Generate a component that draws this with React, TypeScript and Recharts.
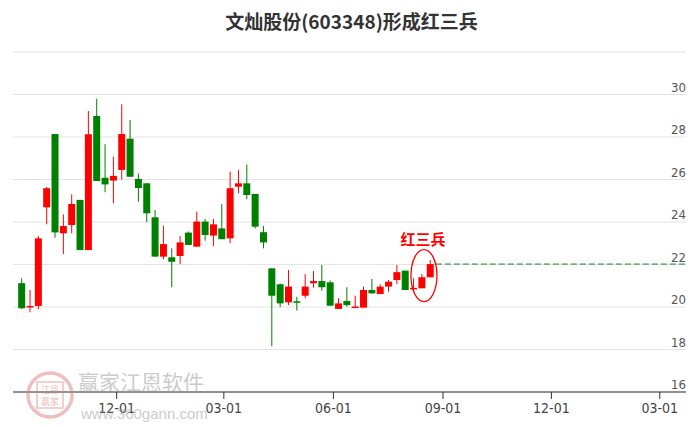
import React from "react";
import {
  ComposedChart,
  Bar,
  XAxis,
  YAxis,
  CartesianGrid,
  ReferenceLine,
  ReferenceDot,
} from "recharts";

// ---------- data ----------
const dates = [
  "2018-09-12", "2018-09-19", "2018-09-26", "2018-10-03", "2018-10-10",
  "2018-10-17", "2018-10-24", "2018-10-31", "2018-11-07", "2018-11-14",
  "2018-11-21", "2018-11-28", "2018-12-05", "2018-12-12", "2018-12-19",
  "2018-12-26", "2019-01-02", "2019-01-09", "2019-01-16", "2019-01-23",
  "2019-01-30", "2019-02-06", "2019-02-13", "2019-02-20", "2019-02-27",
  "2019-03-06", "2019-03-13", "2019-03-20", "2019-03-27", "2019-04-03",
  "2019-04-10", "2019-04-17", "2019-04-24", "2019-05-01", "2019-05-08",
  "2019-05-15", "2019-05-22", "2019-05-29", "2019-06-05", "2019-06-12",
  "2019-06-19", "2019-06-26", "2019-07-03", "2019-07-10", "2019-07-17",
  "2019-07-24", "2019-07-31", "2019-08-07", "2019-08-14", "2019-08-21",
];

const opens = [
  21.12, 20.0, 20.05, 24.69, 28.14, 23.47, 23.86, 25.04, 22.68, 28.99,
  26.08, 25.95, 26.45, 27.92, 26.03, 25.82, 24.22, 22.37, 22.34, 22.4,
  23.5, 22.84, 24.02, 23.36, 23.7, 23.23, 25.66, 25.82, 25.32, 23.52,
  21.82, 21.07, 20.22, 20.27, 20.53, 21.12, 21.22, 21.16, 19.91, 20.28,
  19.98, 19.97, 20.8, 20.61, 20.96, 21.27, 21.71, 20.86, 20.88, 21.4,
];
const closes = [
  19.94, 20.05, 23.23, 25.59, 23.51, 23.81, 24.85, 22.68, 28.13, 25.93,
  25.77, 26.17, 28.14, 26.13, 25.6, 24.41, 22.37, 22.96, 22.13, 23.04,
  22.92, 24.02, 23.39, 23.89, 23.19, 25.59, 25.82, 25.27, 23.78, 23.04,
  20.53, 20.17, 20.96, 20.24, 20.96, 21.22, 20.93, 20.06, 20.17, 20.09,
  20.02, 20.8, 20.64, 20.96, 21.19, 21.64, 20.8, 20.9, 21.4, 22.02,
];
const highs = [
  21.35, 20.8, 23.34, 25.65, 28.14, 24.36, 25.3, 25.04, 29.22, 29.8,
  27.66, 27.08, 29.54, 28.8, 26.28, 25.82, 24.56, 23.83, 22.76, 23.34,
  23.55, 24.49, 24.14, 24.14, 24.85, 26.37, 26.45, 26.71, 25.32, 23.81,
  21.82, 21.11, 21.74, 20.48, 21.55, 21.69, 21.98, 21.25, 20.41, 20.93,
  20.53, 20.96, 21.32, 21.07, 21.27, 21.98, 21.71, 21.35, 21.55, 22.21,
];
const lows = [
  19.9, 19.75, 19.9, 23.89, 23.26, 22.49, 23.47, 22.68, 22.68, 25.93,
  25.4, 24.88, 26.0, 26.13, 24.95, 23.99, 22.37, 22.24, 20.93, 22.02,
  22.92, 22.84, 23.12, 22.87, 23.19, 23.0, 25.35, 25.07, 23.7, 22.76,
  18.16, 19.99, 20.09, 19.83, 20.41, 20.91, 20.77, 20.06, 19.91, 20.01,
  19.98, 19.97, 20.64, 20.61, 20.72, 21.07, 20.8, 20.77, 20.88, 21.4,
];

const xTickDates = ["2018-12-01", "2019-03-01", "2019-06-01", "2019-09-01", "2019-12-01", "2020-03-01"];
const yTicks = [16, 18, 20, 22, 24, 26, 28, 30];
const xDomainDates = ["2018-09-05", "2020-03-23"];
const patternLabel = "红三兵";
const patternCenter = { date: "2019-08-16", price: 21.48 };
const lastClose = 22.02;
const dashStartDate = "2019-08-26";
const title = "文灿股份(603348)形成红三兵";

// ---------- helpers ----------
const toDay = (s: string) => {
  const [y, m, d] = s.split("-").map(Number);
  return Date.UTC(y, m - 1, d) / 86400000;
};
const fmtDay = (v: number) => {
  const d = new Date(v * 86400000);
  const mm = String(d.getUTCMonth() + 1).padStart(2, "0");
  const dd = String(d.getUTCDate()).padStart(2, "0");
  return `${mm}-${dd}`;
};

const data = dates.map((s, i) => ({
  t: toDay(s),
  open: opens[i],
  close: closes[i],
  high: highs[i],
  low: lows[i],
}));

const RED = "#ff0000";
const GREEN = "#008000";
const NARROW = "'Liberation Sans Narrow', 'Arial Narrow', 'DejaVu Sans Condensed', 'Liberation Sans', sans-serif";

const Candle = (props: any) => {
  const { x, y, width, height, payload } = props;
  if (x == null || y == null) return null;
  const { open, close, high, low } = payload;
  const top = Math.min(y, y + height);
  const h = Math.abs(height);
  const pix = (v: number) => top + ((high - v) / (high - low)) * h;
  const color = close >= open ? RED : GREEN;
  const cx = x + width / 2;
  const bt = pix(Math.max(open, close));
  const bb = pix(Math.min(open, close));
  return (
    <g>
      <line x1={cx} x2={cx} y1={top} y2={top + h} stroke={color} strokeWidth={1} />
      <rect x={x} y={bt} width={width} height={Math.max(1.5, bb - bt)} fill={color} />
    </g>
  );
};

const XTick = (props: any) => {
  const { x, y, payload } = props;
  return (
    <text x={x} y={y} dy={12} textAnchor="middle" fontSize={14} fill="#444" fontFamily={NARROW}>
      {fmtDay(payload.value)}
    </text>
  );
};

const YTick = (props: any) => {
  const { y, payload } = props;
  return (
    <text x={686} y={y - 3} textAnchor="end" fontSize={13} fill="#555" fontFamily={NARROW}>
      {payload.value}
    </text>
  );
};

const PatternMark = (props: any) => {
  const { cx, cy } = props;
  if (cx == null || cy == null) return null;
  return (
    <g>
      <ellipse cx={cx} cy={cy} rx={13} ry={26} fill="none" stroke={RED} strokeWidth={1.3} />
      <text
        x={cx - 1}
        y={cy - 37}
        textAnchor="middle"
        dominantBaseline="central"
        fontSize={15}
        fontWeight="bold"
        fill={RED}
        fontFamily="'Noto Sans CJK SC', sans-serif"
      >
        {patternLabel}
      </text>
    </g>
  );
};

export default function App() {
  const xMin = toDay(xDomainDates[0]);
  const xMax = toDay(xDomainDates[1]);
  return (
    <div style={{ position: "absolute", left: 0, top: 0, width: 689, height: 427, background: "#fff", overflow: "hidden" }}>
      <ComposedChart width={689} height={427} data={data} margin={{ top: 52, right: 0, bottom: 0, left: 13 }}>
        <CartesianGrid vertical={false} stroke="#e4e4e4" />
        <XAxis
          type="number"
          dataKey="t"
          domain={[xMin, xMax]}
          allowDataOverflow
          ticks={xTickDates.map(toDay)}
          tick={<XTick />}
          tickSize={7}
          tickLine={{ stroke: "#333" }}
          axisLine={{ stroke: "#333" }}
          height={35}
          interval={0}
        />
        <YAxis
          orientation="right"
          width={3}
          domain={[16, 32]}
          ticks={yTicks}
          axisLine={false}
          tickLine={false}
          tick={<YTick />}
          interval={0}
          allowDataOverflow
        />
        <Bar
          dataKey={(d: any) => [d.low, d.high]}
          barSize={7}
          shape={<Candle />}
          isAnimationActive={false}
        />
        <ReferenceLine
          segment={[
            { x: toDay(dashStartDate), y: lastClose },
            { x: xMax, y: lastClose },
          ]}
          stroke="#2a7a2a"
          strokeDasharray="6 3"
          strokeWidth={1}
        />
        <ReferenceDot
          x={toDay(patternCenter.date)}
          y={patternCenter.price}
          r={1}
          shape={<PatternMark />}
        />
      </ComposedChart>

      {/* title */}
      <div
        style={{
          position: "absolute",
          left: 0,
          top: 10,
          width: 703,
          textAlign: "center",
          fontSize: 19,
          lineHeight: "22px",
          fontWeight: "bold",
          color: "#333",
          fontFamily: "'Noto Sans CJK SC', sans-serif",
          whiteSpace: "nowrap",
        }}
      >
        {title}
      </div>

      {/* watermark */}
      <div style={{ position: "absolute", left: 0, top: 0, width: 689, height: 427, pointerEvents: "none", opacity: 0.5 }}>
        <svg width={689} height={427} style={{ position: "absolute", left: 0, top: 0 }}>
          <circle cx={50} cy={395} r={22} fill="none" stroke="#e08080" strokeWidth={3.5} />
          <rect x={37} y={382} width={26} height={26} fill="none" stroke="#e08080" strokeWidth={1.5} />
          <text x={50} y={393} textAnchor="middle" fontSize={9} fill="#e08080" fontFamily="'Noto Sans CJK SC', sans-serif">江恩</text>
          <text x={50} y={405} textAnchor="middle" fontSize={9} fill="#e08080" fontFamily="'Noto Sans CJK SC', sans-serif">赢家</text>
          <text x={78} y={390} fontSize={21} fill="#999" fontFamily="'Noto Sans CJK SC', sans-serif">赢家江恩软件</text>
          <text x={81} y={419} fontSize={15} fill="#999" fontFamily="'Liberation Sans', Arial, sans-serif">www.360gann.com</text>
        </svg>
      </div>
    </div>
  );
}
